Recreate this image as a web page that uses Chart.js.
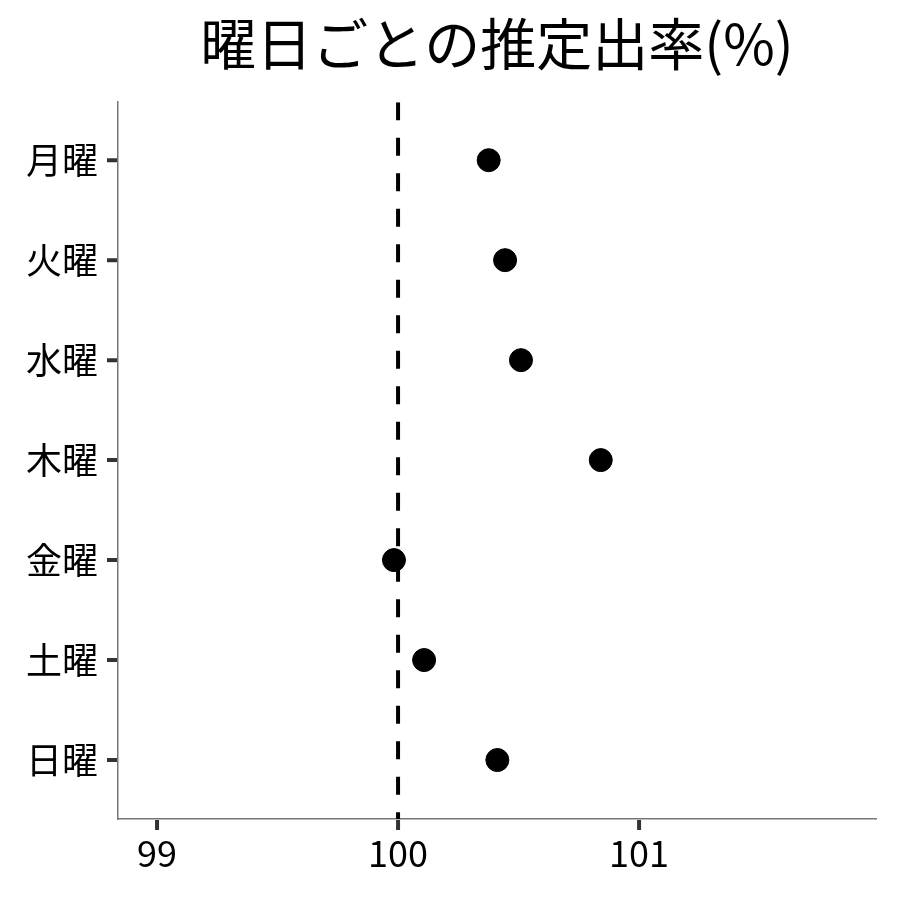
<!DOCTYPE html>
<html>
<head>
<meta charset="utf-8">
<script src="https://cdn.jsdelivr.net/npm/chart.js@4/dist/chart.umd.min.js"></script>
<style>
  html, body { margin: 0; padding: 0; background: #fff; }
  #wrap { width: 900px; height: 900px; }
</style>
</head>
<body>
<div id="wrap"><canvas id="chart" width="900" height="900"></canvas></div>
<script>
// --- data ---
const days = ['月曜', '火曜', '水曜', '木曜', '金曜', '土曜', '日曜'];
const rates = [100.376, 100.444, 100.510, 100.841, 99.983, 100.108, 100.412];
const xTicks = [99, 100, 101];
const refValue = 100;
const titleText = '曜日ごとの推定出率(%)';

const FONT = '"Noto Sans CJK JP", "Noto Sans", sans-serif';
const xMin = 98.838, xMax = 101.983;
const yMin = -0.58, yMax = 6.59;
const TICK_LEN = 11;

const points = days.map((d, i) => ({ x: rates[i], y: i }));
const refLine = [{ x: refValue, y: yMin }, { x: refValue, y: yMax }];

// thick dark tick marks, drawn from the scales' own tick positions
const tickMarks = {
  id: 'tickMarks',
  afterDraw(chart) {
    const c = chart.ctx;
    const xs = chart.scales.x, ys = chart.scales.y;
    c.save();
    c.strokeStyle = '#333';
    c.lineWidth = 4;
    c.beginPath();
    xs.ticks.forEach(t => {
      const px = xs.getPixelForValue(t.value);
      c.moveTo(px, xs.top + 1);
      c.lineTo(px, xs.top + TICK_LEN);
    });
    ys.ticks.forEach(t => {
      const py = ys.getPixelForValue(t.value);
      c.moveTo(ys.right - 1, py);
      c.lineTo(ys.right - TICK_LEN, py);
    });
    c.stroke();
    c.restore();
  }
};

const gridOpts = {
  drawOnChartArea: false,
  drawTicks: true,
  tickLength: TICK_LEN,
  tickColor: 'rgba(0,0,0,0)'
};

const ctx = document.getElementById('chart').getContext('2d');
new Chart(ctx, {
  type: 'scatter',
  data: {
    datasets: [
      {
        type: 'line',
        data: refLine,
        borderColor: '#000',
        borderWidth: 4,
        borderDash: [18, 17.5],
        pointRadius: 0,
        fill: false
      },
      {
        data: points,
        backgroundColor: '#000',
        borderColor: '#000',
        pointRadius: 11.5,
        pointHoverRadius: 11.5
      }
    ]
  },
  options: {
    responsive: false,
    animation: false,
    events: [],
    layout: { padding: { left: 0, right: 24, top: 0, bottom: 0 } },
    plugins: {
      legend: { display: false },
      tooltip: { enabled: false },
      title: {
        display: true,
        text: titleText,
        fullSize: false,
        color: '#000',
        font: { family: FONT, size: 56, weight: 'normal' },
        padding: { top: 10, bottom: 25 }
      }
    },
    scales: {
      x: {
        type: 'linear',
        min: xMin,
        max: xMax,
        afterBuildTicks: s => { s.ticks = xTicks.map(v => ({ value: v })); },
        afterFit: s => { s.height = 81; },
        border: { display: true, color: '#777', width: 1.5 },
        grid: gridOpts,
        ticks: { color: '#000', padding: 2, font: { family: FONT, size: 36 }, maxRotation: 0 }
      },
      y: {
        type: 'linear',
        reverse: true,
        min: yMin,
        max: yMax,
        afterBuildTicks: s => { s.ticks = days.map((d, i) => ({ value: i })); },
        afterFit: s => { s.width = 118; },
        border: { display: true, color: '#777', width: 1.5 },
        grid: gridOpts,
        ticks: {
          color: '#000',
          padding: 9,
          font: { family: FONT, size: 36 },
          callback: v => days[v]
        }
      }
    }
  },
  plugins: [tickMarks]
});
</script>
</body>
</html>
